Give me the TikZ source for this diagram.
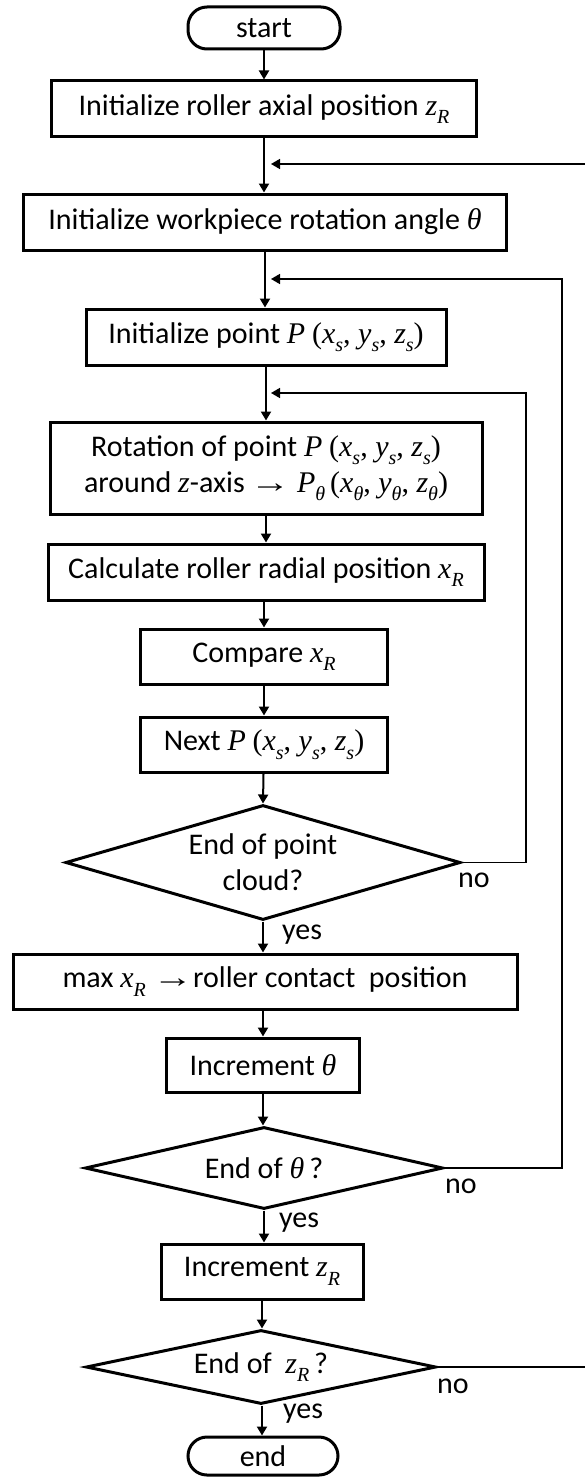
\documentclass[tikz,border=0pt]{standalone}
\usepackage{fontspec}
\setmainfont{Carlito}
\newfontfamily\tms{Liberation Serif}
\usetikzlibrary{shapes.geometric,arrows.meta}
\newcommand{\iv}[1]{{\tms\itshape #1}}
\newcommand{\sbsc}[1]{\raisebox{-0.28em}{\fontsize{20}{20}\selectfont\tms\itshape #1}}
\newcommand{\rmp}[1]{{\tms #1}}
\newcommand{\rarr}{\scalebox{1.35}[1]{\tms →}}
\newcommand{\xyzs}{\rmp{(}\iv{x}\sbsc{s}\rmp{, }\iv{y}\sbsc{s}\rmp{, }\iv{z}\sbsc{s}\rmp{)}}
\begin{document}
\begin{tikzpicture}[x=1pt,y=-1pt,
  every node/.style={font=\fontsize{30}{36}\selectfont, inner sep=0pt},
  procbox/.style={draw, line width=3pt, minimum width=#1, minimum height=56pt, align=center},
  termbox/.style={draw, line width=3pt, minimum width=152pt, minimum height=#1, rounded corners=19pt},
  decbox/.style n args={3}{draw, line width=3pt, shape=diamond, minimum width=#1pt, minimum height=#2pt, aspect=#3, align=center},
  conn/.style={line width=2pt, -{Triangle[length=9pt,width=10pt]}},
  loopline/.style={line width=1.6pt, -{Triangle[length=9pt,width=10pt]}},
  lbl/.style={anchor=base west}
]
\useasboundingbox (0,0) rectangle (585,1477);

\node[termbox=42pt] (start) at (264,28) {start};
\node[procbox=425pt] (b1) at (264,109) {Initialize roller axial position \iv{z}\sbsc{R}};
\node[procbox=483pt] (b2) at (265,222) {Initialize workpiece rotation angle \iv{θ}};
\node[procbox=360pt] (b3) at (266,337) {Initialize point \iv{P} \xyzs};
\node[procbox=432pt, minimum height=92pt] (b4) at (266,468) {Rotation of point \iv{P} \xyzs\\around \iv{z}-axis\,\rarr\ \iv{P}\sbsc{θ}\,\rmp{(}\iv{x}\sbsc{θ}\rmp{, }\iv{y}\sbsc{θ}\rmp{, }\iv{z}\sbsc{θ}\rmp{)}};
\node[procbox=436pt] (b5) at (266,572) {Calculate roller radial position \iv{x}\sbsc{R}};
\node[procbox=247pt, minimum height=55pt] (b6) at (264,656.5) {Compare \iv{x}\sbsc{R}};
\node[procbox=247pt, minimum height=55pt] (b7) at (264,744.5) {Next \iv{P} \xyzs};
\node[decbox={395}{115}{3.43}] (d1) at (263,862.5) {End of point\\cloud?};
\node[procbox=504pt, minimum height=55pt] (b8) at (265,981.5) {max \iv{x}\sbsc{R}\ \rarr{}roller contact\ \ position};
\node[procbox=193pt, minimum height=54pt] (b9) at (263,1065) {Increment \iv{θ}};
\node[decbox={358}{82}{4.37}] (d2) at (264,1168) {End of \iv{θ}\,?};
\node[procbox=202pt, minimum height=55pt] (b10) at (262,1271.5) {Increment \iv{z}\sbsc{R}};
\node[decbox={350}{74}{4.7}] (d3) at (261,1367) {End of\ \ \iv{z}\sbsc{R}\,?};
\node[termbox=38pt, minimum width=150pt] (end) at (263,1456) {end};

\coordinate (j1) at (271,164);
\coordinate (j2) at (271,279);
\coordinate (j3) at (271,393);
\coordinate (r1) at (526,862.5);
\coordinate (r2) at (562,1168);
\coordinate (r3) at (588,1367);

\draw[conn] (start) -- (start |- b1.north);
\draw[conn] (b1) -- (b1 |- b2.north);
\draw[conn] (b2) -- (b2 |- b3.north);
\draw[conn] (b3) -- (b3 |- b4.north);
\draw[conn] (b4) -- (b4 |- b5.north);
\draw[conn] (b5.south -| b6) -- (b6.north);
\draw[conn] (b6) -- (b7);
\draw[conn] (b7) -- (d1.north);
\draw[conn] (d1.south) -- (d1.south |- b8.north);
\draw[conn] (b8.south -| b9) -- (b9.north);
\draw[conn] (b9) -- (d2.north -| b9);
\draw[conn] (d2.south) -- (d2.south |- b10.north);
\draw[conn] (b10) -- (d3.north -| b10);
\draw[conn] (d3.south -| b10) -- (end.north -| b10);

\draw[loopline] (d1.east) -- (r1) |- (j3);
\draw[loopline] (d2.east) -- (r2) |- (j2);
\draw[loopline] (d3.east) -- (r3) |- (j1);

\node[lbl] (no1) at (458,887) {no};
\node[lbl] (yes1) at (282,939) {yes};
\node[lbl] (no2) at (445,1193) {no};
\node[lbl] (yes2) at (279,1227) {yes};
\node[lbl] (no3) at (437,1393) {no};
\node[lbl] (yes3) at (283,1418) {yes};
\end{tikzpicture}
\end{document}
